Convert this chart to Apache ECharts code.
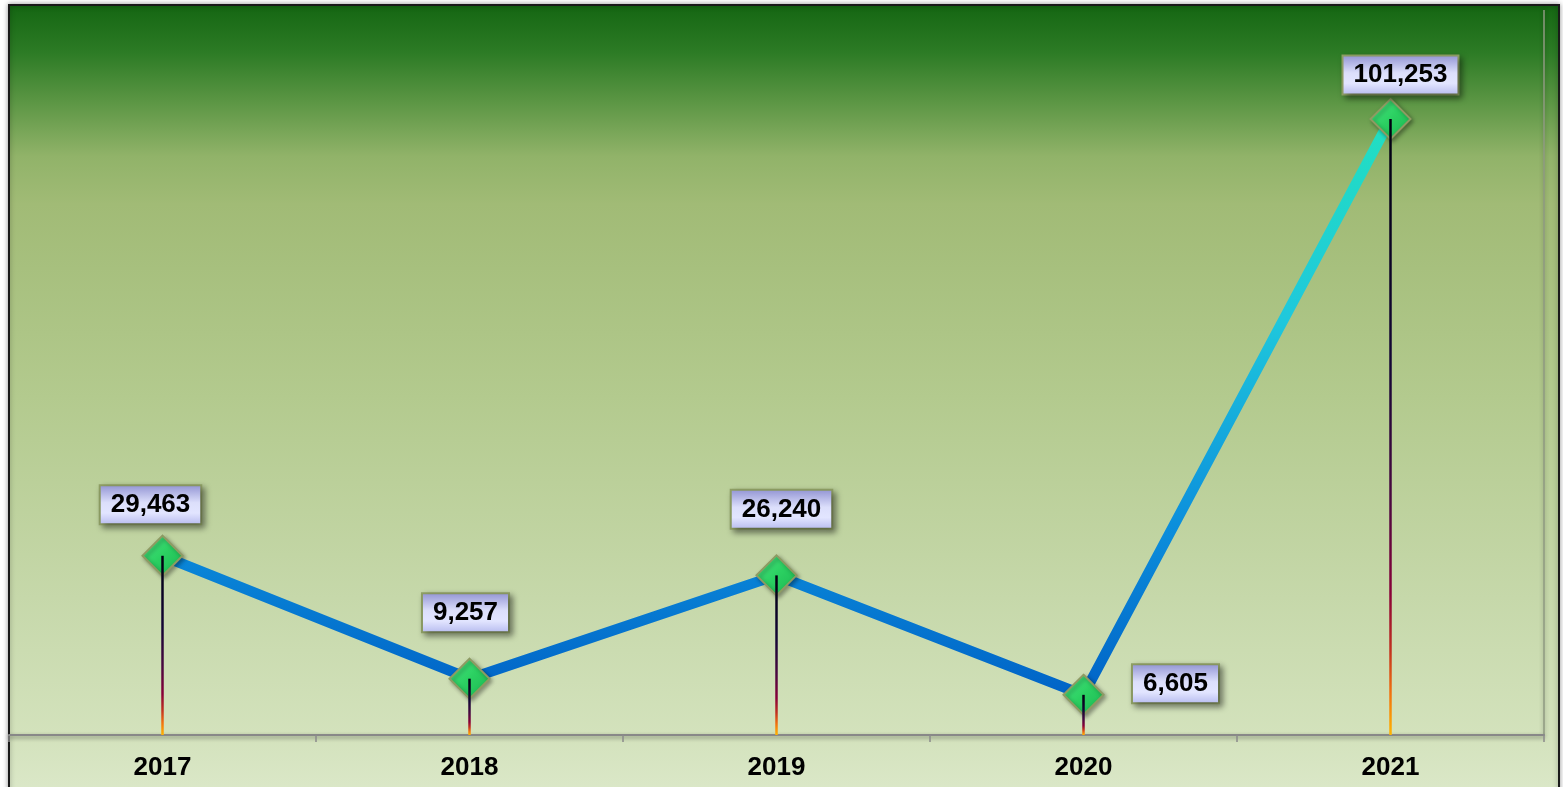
<!DOCTYPE html>
<html>
<head>
<meta charset="utf-8">
<script src="https://cdn.jsdelivr.net/npm/echarts@6/dist/echarts.min.js"></script>
<style>
  html, body { margin: 0; padding: 0; background: #ffffff; }
  #chart { width: 1563px; height: 787px; }
</style>
</head>
<body>
<div id="chart"></div>
<script>
// Yearly totals
const years = ['2017', '2018', '2019', '2020', '2021'];
const amounts = [29463, 9257, 26240, 6605, 101253];
// Where each value callout sits relative to its marker (px)
const labelOffsets = [[-12, -51], [-4, -66], [5, -66], [92, -11], [10, -44]];

const G = echarts.graphic.LinearGradient;

const chart = echarts.init(document.getElementById('chart'), null, { renderer: 'canvas' });

const lineColor = new G(0, 0, 0, 1, [
  { offset: 0, color: '#22e0c0' },
  { offset: 0.35, color: '#1fc8dc' },
  { offset: 0.7, color: '#0c8fdc' },
  { offset: 1, color: '#0062c6' }
]);

const markerColor = new G(0, 0, 1, 1, [
  { offset: 0, color: '#4de887' },
  { offset: 0.5, color: '#2bd061' },
  { offset: 1, color: '#1bb552' }
]);

const stemColor = new G(0, 0, 0, 1, [
  { offset: 0, color: '#000010' },
  { offset: 0.4, color: '#140636' },
  { offset: 0.62, color: '#4a0840' },
  { offset: 0.77, color: '#880038' },
  { offset: 0.86, color: '#c03020' },
  { offset: 0.93, color: '#f07010' },
  { offset: 1, color: '#ffb400' }
]);

const calloutBg = new G(0, 0, 0, 1, [
  { offset: 0, color: '#9092d2' },
  { offset: 0.45, color: '#dcdffb' },
  { offset: 0.7, color: '#e2e5ff' },
  { offset: 1, color: '#b6baee' }
]);

const frameFill = new G(0, 0, 0, 1, [
  { offset: 0, color: '#146612' },
  { offset: 0.06, color: '#2c7b25' },
  { offset: 0.12, color: '#5a9543' },
  { offset: 0.19, color: '#91b369' },
  { offset: 0.25, color: '#a1bb76' },
  { offset: 0.49, color: '#b3ca8e' },
  { offset: 0.74, color: '#c6d8aa' },
  { offset: 0.91, color: '#d3e2bc' },
  { offset: 1, color: '#dde9cb' }
]);

const lineData = amounts.map((v, i) => ({
  value: v,
  label: { offset: labelOffsets[i] }
}));

chart.setOption({
  animation: false,
  backgroundColor: '#ffffff',
  graphic: [
    {
      type: 'rect',
      z: -10,
      shape: { x: 9, y: 5, width: 1550, height: 800 },
      style: {
        fill: frameFill,
        stroke: '#1a1a1a',
        lineWidth: 2,
        shadowBlur: 5,
        shadowColor: 'rgba(0,0,0,0.35)'
      },
      silent: true
    },
    {
      type: 'line',
      z: -5,
      shape: { x1: 1544, y1: 10, x2: 1544, y2: 735 },
      style: {
        stroke: '#8f9a82',
        lineWidth: 1.5,
        shadowBlur: 4,
        shadowColor: 'rgba(0,0,0,0.3)'
      },
      silent: true
    }
  ],
  grid: { left: 9, right: 19, top: 5, bottom: 52, containLabel: false },
  xAxis: {
    type: 'category',
    data: years,
    boundaryGap: true,
    axisLine: {
      lineStyle: {
        color: '#888888',
        width: 2,
        shadowColor: 'rgba(0,0,0,0.45)',
        shadowBlur: 4,
        shadowOffsetY: 2
      }
    },
    axisTick: { show: true, length: 7, lineStyle: { color: '#8a8a8a', width: 1.5 } },
    axisLabel: {
      margin: 20,
      color: '#000000',
      fontFamily: 'Liberation Sans, Arial, sans-serif',
      fontWeight: 'bold',
      fontSize: 26
    },
    splitLine: { show: false }
  },
  yAxis: {
    type: 'value',
    min: 0,
    max: 120000,
    show: false,
    splitLine: { show: false }
  },
  series: [
    {
      type: 'line',
      data: lineData,
      z: 2,
      lineStyle: { color: lineColor, width: 10.5 },
      symbol: 'diamond',
      symbolSize: 40,
      itemStyle: {
        color: markerColor,
        borderColor: '#8d9b62',
        borderWidth: 2,
        shadowBlur: 4,
        shadowColor: 'rgba(0,0,0,0.35)',
        shadowOffsetX: 2,
        shadowOffsetY: 2
      },
      label: {
        show: true,
        position: 'inside',
        formatter: p => p.value.toLocaleString('en-US'),
        color: '#000000',
        fontFamily: 'Liberation Sans, Arial, sans-serif',
        fontWeight: 'bold',
        fontSize: 26,
        padding: [6, 10, 5, 10],
        backgroundColor: calloutBg,
        borderColor: '#8e9e64',
        borderWidth: 2,
        shadowColor: 'rgba(0,0,0,0.4)',
        shadowBlur: 6,
        shadowOffsetX: 3,
        shadowOffsetY: 3
      },
      emphasis: { disabled: true }
    },
    {
      type: 'bar',
      data: amounts,
      z: 3,
      barWidth: 2.5,
      silent: true,
      itemStyle: { color: stemColor },
      emphasis: { disabled: true }
    }
  ]
});
</script>
</body>
</html>
